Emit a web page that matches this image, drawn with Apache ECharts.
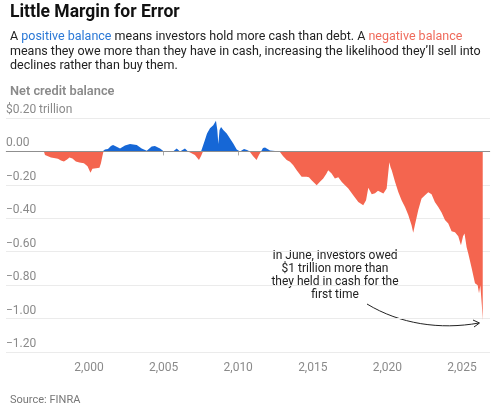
<!DOCTYPE html>
<html>
<head>
<meta charset="UTF-8">
<title>Little Margin for Error</title>
<script src="https://cdn.jsdelivr.net/npm/echarts@6/dist/echarts.min.js"></script>
<style>
  html, body { margin: 0; padding: 0; background: #fff; }
  #main { width: 501px; height: 404px; }
</style>
</head>
<body>
<div id="main"></div>
<script type="text/javascript">
// Net credit balance, $ trillion
var years = [
  1996.98, 1997.05, 1997.18, 1997.45, 1997.65, 1997.92, 1998.12, 1998.32, 1998.53, 1998.69,
  1998.89, 1999.12, 1999.36, 1999.66, 1999.90, 2000.10, 2000.23, 2000.47, 2000.70, 2000.80,
  2000.90, 2000.97, 2001.07, 2001.27, 2001.47, 2001.61, 2001.85, 2002.08, 2002.41, 2002.75,
  2003.20, 2003.53, 2003.87, 2004.20, 2004.42, 2004.76, 2004.98, 2005.29, 2005.63, 2005.88,
  2006.10, 2006.43, 2006.64, 2006.84, 2007.10, 2007.37, 2007.51, 2007.64, 2007.77, 2007.91,
  2008.11, 2008.33, 2008.51, 2008.60, 2008.67, 2008.75, 2008.85, 2009.00, 2009.23, 2009.45,
  2009.67, 2009.90, 2010.12, 2010.25, 2010.39, 2010.59, 2010.79, 2010.99, 2011.23, 2011.39,
  2011.53, 2011.66, 2011.80, 2011.93, 2012.13, 2012.47, 2012.80, 2013.00, 2013.25, 2013.47,
  2013.69, 2013.92, 2014.02, 2014.25, 2014.36, 2014.58, 2014.74, 2014.92, 2015.03, 2015.26,
  2015.48, 2015.70, 2015.92, 2016.03, 2016.15, 2016.26, 2016.48, 2016.71, 2016.93, 2017.16,
  2017.38, 2017.49, 2017.71, 2017.83, 2018.05, 2018.16, 2018.38, 2018.57, 2018.72, 2018.79,
  2018.95, 2019.17, 2019.37, 2019.50, 2019.73, 2019.95, 2020.04, 2020.13, 2020.21, 2020.29,
  2020.51, 2020.73, 2020.95, 2021.18, 2021.40, 2021.62, 2021.73, 2021.84, 2022.07, 2022.29,
  2022.52, 2022.74, 2022.96, 2023.18, 2023.41, 2023.63, 2023.86, 2024.08, 2024.30, 2024.53,
  2024.75, 2024.93, 2025.07, 2025.17, 2025.31, 2025.42, 2025.65, 2025.87, 2026.05, 2026.14,
  2026.23, 2026.33, 2026.39
];
var balance = [
  0, -0.022, -0.032, -0.036, -0.040, -0.044, -0.055, -0.060, -0.049, -0.037,
  -0.043, -0.061, -0.066, -0.070, -0.088, -0.127, -0.104, -0.100, -0.097, -0.070,
  -0.028, 0, 0.011, 0.014, 0.032, 0.038, 0.028, 0.018, 0.035, 0.044,
  0.038, 0.018, 0.004, 0.029, 0.032, 0.018, 0.002, -0.004, -0.003, 0.017,
  -0.001, 0.017, 0, -0.010, -0.022, -0.052, -0.028, 0, 0.068, 0.108,
  0.138, 0.157, 0.183, 0.128, 0.044, 0.128, 0.146, 0.128, 0.108, 0.078,
  0.048, 0.012, 0, -0.010, 0.014, 0.008, -0.004, -0.028, -0.052, -0.022,
  0, 0.020, 0.023, 0.014, 0.005, 0.002, -0.004, -0.028, -0.052, -0.062,
  -0.082, -0.112, -0.122, -0.152, -0.142, -0.151, -0.154, -0.172, -0.169, -0.202,
  -0.182, -0.162, -0.132, -0.112, -0.115, -0.132, -0.162, -0.154, -0.182, -0.202,
  -0.222, -0.232, -0.262, -0.272, -0.302, -0.304, -0.322, -0.292, -0.217, -0.214,
  -0.256, -0.250, -0.235, -0.232, -0.251, -0.222, -0.142, -0.064, -0.094, -0.112,
  -0.182, -0.242, -0.292, -0.332, -0.381, -0.441, -0.486, -0.441, -0.351, -0.281,
  -0.262, -0.244, -0.256, -0.302, -0.332, -0.366, -0.411, -0.431, -0.477, -0.483,
  -0.507, -0.561, -0.507, -0.491, -0.573, -0.611, -0.699, -0.789, -0.801, -0.849,
  -0.801, -0.920, -1.010
];
var xTicks = [2000, 2005, 2010, 2015, 2020, 2025];
var yTicks = [0.2, 0, -0.2, -0.4, -0.6, -0.8, -1.0, -1.2];
var yTickLabels = ['$0.20 trillion', '0.00', '\u22120.20', '\u22120.40', '\u22120.60', '\u22120.80', '\u22121.00', '\u22121.20'];

var BLUE = '#1667d6';
var RED = '#f4654f';
var GREY = '#8a8a8a';
var FONT = 'Roboto, "Noto Sans", sans-serif';

var posData = [], negData = [];
for (var i = 0; i < years.length; i++) {
    posData.push([years[i], balance[i] > 0 ? balance[i] : 0]);
    negData.push([years[i], balance[i] < 0 ? balance[i] : 0]);
}

var myChart = echarts.init(document.getElementById('main'));
var option = {
    animation: false,
    backgroundColor: '#fff',
    textStyle: { fontFamily: FONT },
    title: [
        {
            text: 'Little Margin for Error',
            left: 5, top: -1,
            textStyle: { fontFamily: FONT, fontSize: 17.5, fontWeight: 'bold', color: '#111' }
        },
        {
            text: '{t|A }{p|positive balance}{t| means investors hold more cash than debt. A }{n|negative balance}\n' +
                  '{t|means they owe more than they have in cash, increasing the likelihood they\u2019ll sell into}\n' +
                  '{t|declines rather than buy them.}',
            left: 5, top: 25,
            textStyle: {
                fontFamily: FONT, fontSize: 12.5, fontWeight: 'normal', lineHeight: 14.5,
                rich: {
                    t: { fontFamily: FONT, fontSize: 12.5, color: '#222', lineHeight: 14.5 },
                    p: { fontFamily: FONT, fontSize: 12.5, color: '#2a78d6', lineHeight: 14.5 },
                    n: { fontFamily: FONT, fontSize: 12.5, color: '#ef6b5c', lineHeight: 14.5 }
                }
            }
        },
        {
            text: 'Net credit balance',
            left: 5, top: 80,
            textStyle: { fontFamily: FONT, fontSize: 12.8, fontWeight: 600, color: GREY }
        },
        {
            text: 'Source: FINRA',
            left: 5, top: 390,
            textStyle: { fontFamily: FONT, fontSize: 11, fontWeight: 'normal', color: '#777' }
        }
    ],
    grid: { left: 6, right: 11, top: 118, bottom: 52 },
    xAxis: {
        type: 'value',
        min: 1994.437,
        max: 2026.877,
        axisLine: { show: true, lineStyle: { color: '#e3e3e3' } },
        axisTick: { show: true, customValues: xTicks, length: 4, lineStyle: { color: '#aaa' } },
        axisLabel: { customValues: xTicks, color: GREY, fontSize: 12, margin: 10, fontFamily: FONT },
        splitLine: { show: false }
    },
    yAxis: {
        type: 'value',
        min: -1.2,
        max: 0.2,
        interval: 0.2,
        axisLine: { show: false },
        axisTick: { show: false },
        splitLine: { lineStyle: { color: '#ebebeb' } },
        axisLabel: {
            inside: true,
            margin: 0,
            verticalAlign: 'bottom',
            padding: [0, 0, 2, 0],
            color: GREY,
            fontSize: 12,
            fontFamily: FONT,
            formatter: function (v) {
                for (var k = 0; k < yTicks.length; k++) {
                    if (Math.abs(v - yTicks[k]) < 1e-6) return yTickLabels[k];
                }
                return '';
            }
        }
    },
    series: [
        {
            name: 'positive',
            type: 'line',
            data: posData,
            symbol: 'none',
            lineStyle: { width: 0 },
            areaStyle: { color: BLUE, opacity: 1 },
            z: 2
        },
        {
            name: 'negative',
            type: 'line',
            data: negData,
            symbol: 'none',
            lineStyle: { width: 0 },
            areaStyle: { color: RED, opacity: 1 },
            z: 2,
            markLine: {
                silent: true,
                symbol: 'none',
                label: { show: false },
                lineStyle: { color: '#8f8f8f', width: 1, type: 'solid' },
                data: [{ yAxis: 0 }]
            }
        }
    ],
    graphic: [
        {
            type: 'text',
            x: 335, y: 249.5,
            style: {
                text: 'In June, investors owed\n$1 trillion more than\nthey held in cash for the\nfirst time',
                align: 'center',
                verticalAlign: 'top',
                fontFamily: FONT,
                fontSize: 12,
                lineHeight: 13,
                fill: '#222'
            }
        },
        {
            type: 'bezierCurve',
            shape: { x1: 367, y1: 304, cpx1: 400, cpy1: 324, cpx2: 440, cpy2: 330, x2: 479, y2: 323 },
            style: { stroke: '#222', lineWidth: 1, fill: null }
        },
        {
            type: 'polyline',
            shape: { points: [[473, 320], [479.5, 323], [474, 327]] },
            style: { stroke: '#222', lineWidth: 1, fill: null }
        }
    ]
};
myChart.setOption(option);
</script>
</body>
</html>
